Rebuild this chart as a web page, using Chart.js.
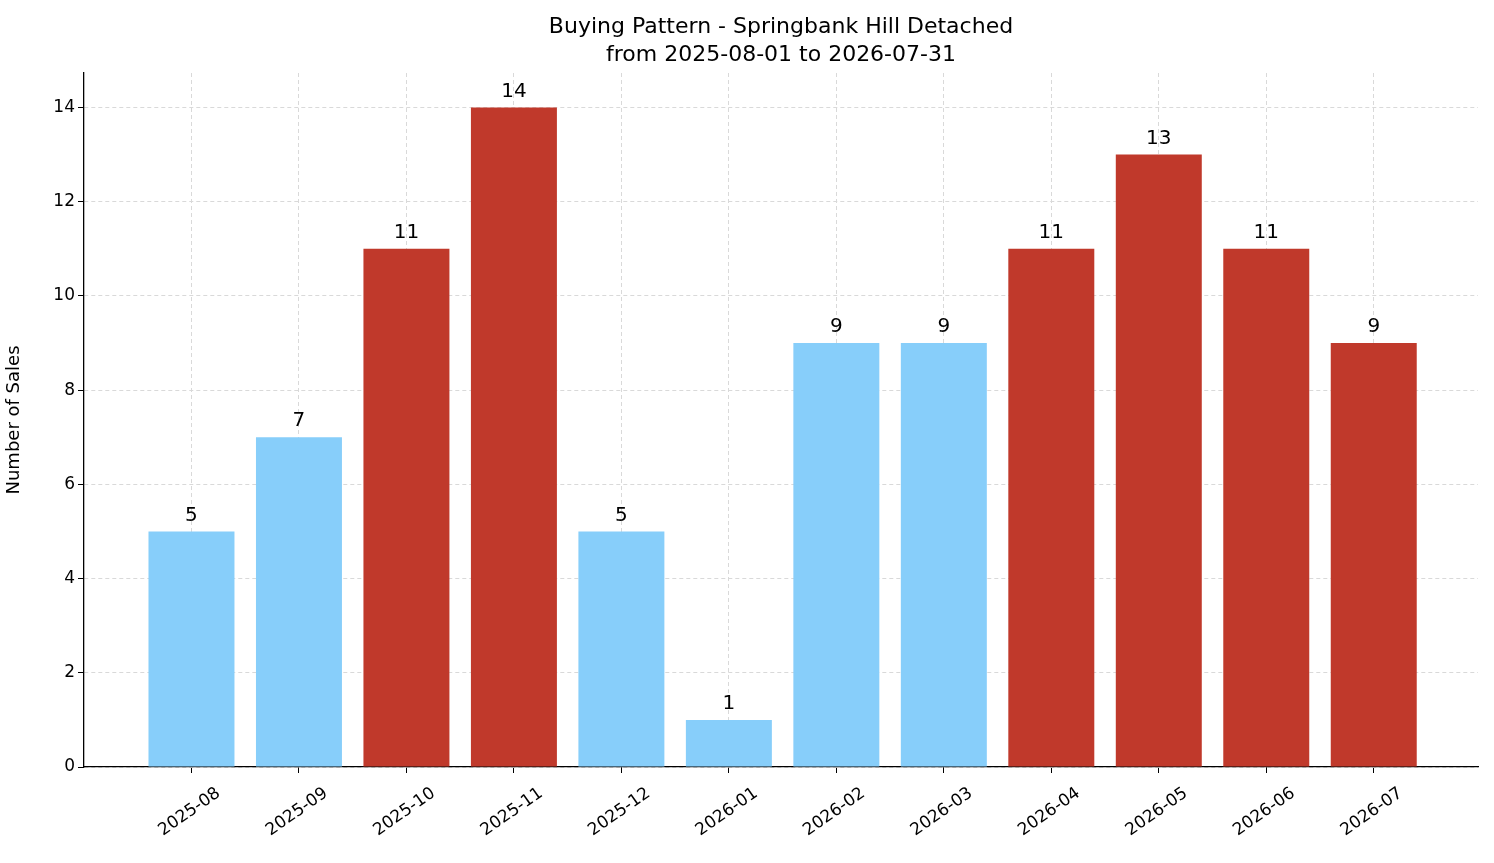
<!DOCTYPE html>
<html>
<head>
<script src="https://cdn.jsdelivr.net/npm/chart.js@4"></script>
<style>
  html, body { margin: 0; padding: 0; background: #fff; }
  #wrap { width: 1494px; height: 863px; }
</style>
</head>
<body>
<div id="wrap"><canvas id="buyingChart"></canvas></div>
<script>
// Data
const months = ['2025-08', '2025-09', '2025-10', '2025-11', '2025-12', '2026-01',
                '2026-02', '2026-03', '2026-04', '2026-05', '2026-06', '2026-07'];
const sales = [5, 7, 11, 14, 5, 1, 9, 9, 11, 13, 11, 9];
const hot = [false, false, true, true, false, false, false, false, true, true, true, true];
const yTicks = [0, 2, 4, 6, 8, 10, 12, 14];

const BLUE = '#87CEFA';
const RED = '#C0392B';
const FONT = 'DejaVu Sans';

// Title, value labels and rotated month labels drawn by hand
const decorPlugin = {
  id: 'decor',
  afterDatasetsDraw(chart) {
    const ctx = chart.ctx;
    const meta = chart.getDatasetMeta(0);
    const xs = chart.scales.x;
    ctx.save();
    ctx.fillStyle = '#000';
    ctx.font = '20px ' + FONT;
    ctx.textAlign = 'center';
    ctx.textBaseline = 'bottom';
    meta.data.forEach((bar, i) => {
      ctx.fillText(String(sales[i]), bar.x, bar.y - 6);
    });

    // month labels, rotated about their centre like matplotlib
    ctx.font = '17px ' + FONT;
    ctx.textBaseline = 'middle';
    months.forEach((m, i) => {
      const px = xs.getPixelForValue(i);
      ctx.save();
      ctx.translate(px - 2, chart.chartArea.bottom + 45);
      ctx.rotate(-35 * Math.PI / 180);
      ctx.fillText(m, 0, 0);
      ctx.restore();
    });

    ctx.font = '22px ' + FONT;
    ctx.textBaseline = 'alphabetic';
    const cx = (chart.chartArea.left + chart.chartArea.right) / 2;
    ctx.fillText('Buying Pattern - Springbank Hill Detached', cx, 33);
    ctx.fillText('from 2025-08-01 to 2026-07-31', cx, 61);
    ctx.restore();
  }
};

const ctx = document.getElementById('buyingChart').getContext('2d');
new Chart(ctx, {
  type: 'bar',
  data: {
    datasets: [{
      data: sales.map((v, i) => ({ x: i, y: v })),
      backgroundColor: hot.map(h => h ? RED : BLUE),
      borderWidth: 0,
      categoryPercentage: 0.8,
      barPercentage: 1.0
    }]
  },
  options: {
    responsive: true,
    maintainAspectRatio: false,
    animation: false,
    layout: { padding: { top: 73, right: 16, left: 0, bottom: 0 } },
    plugins: {
      legend: { display: false },
      tooltip: { enabled: false }
    },
    scales: {
      x: {
        type: 'linear',
        offset: false,
        min: -1,
        max: 11.97,
        afterBuildTicks(axis) { axis.ticks = months.map((m, i) => ({ value: i })); },
        afterFit(axis) { axis.height = 96; },
        ticks: { display: false, autoSkip: false },
        grid: {
          offset: false,
          color: '#d9d9d9',
          drawTicks: true,
          tickColor: '#000',
          tickLength: 6
        },
        border: { display: true, color: '#000', width: 1.3, dash: [4, 3] }
      },
      y: {
        min: 0,
        max: 14.73,
        afterBuildTicks(axis) { axis.ticks = yTicks.map(v => ({ value: v })); },
        afterFit(axis) { axis.width = 84; },
        title: {
          display: true,
          text: 'Number of Sales',
          color: '#000',
          font: { family: FONT, size: 18 }
        },
        ticks: {
          color: '#000',
          font: { family: FONT, size: 17 }
        },
        grid: {
          color: '#d9d9d9',
          tickColor: '#000',
          tickLength: 6
        },
        border: { display: true, color: '#000', width: 1.3, dash: [4, 3] }
      }
    }
  },
  plugins: [decorPlugin]
});
</script>
</body>
</html>
